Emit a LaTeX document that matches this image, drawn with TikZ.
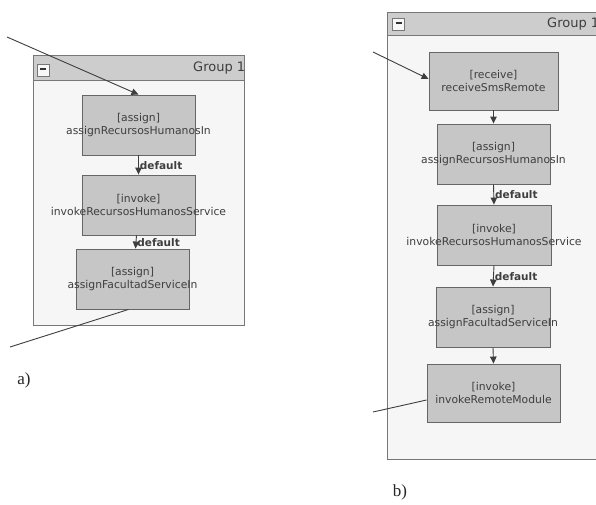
\documentclass[tikz,border=0pt]{standalone}
\usepackage{fontspec}
\setmainfont{DejaVu Sans}
\newfontfamily\seriffam{Liberation Serif}
\usetikzlibrary{arrows.meta}
\definecolor{boxfill}{HTML}{C6C6C6}
\definecolor{boxline}{HTML}{666666}
\definecolor{txt}{HTML}{3E3E3E}
\definecolor{hdr}{HTML}{CDCDCD}
\definecolor{frm}{HTML}{777777}
\definecolor{frmfill}{HTML}{F6F6F6}
\newcommand{\ovl}[1]{\makebox[0pt]{#1}}
\begin{document}
\begin{tikzpicture}[x=1pt,y=-1pt,
  act/.style={draw=boxline, line width=0.9pt, fill=boxfill, minimum width=113pt,
    minimum height=60pt, inner sep=0pt, align=center,
    font=\fontsize{10.8}{13.6}\selectfont, text=txt},
  flow/.style={draw=txt, line width=0.9pt, -{Triangle[length=7pt,width=6.5pt]}},
  wire/.style={draw=txt, line width=0.9pt},
  lbl/.style={font=\bfseries\fontsize{10.5}{12}\selectfont, text=txt, inner sep=1pt},
  grpframe/.style={draw=frm, line width=1pt, fill=frmfill},
  grphead/.style={draw=frm, line width=0.8pt, fill=hdr},
  minusbox/.style={draw=frm, line width=0.6pt, fill=white!85!hdr, minimum size=12pt, inner sep=0pt},
  grp/.style={font=\fontsize{13}{15}\selectfont, text=txt, inner sep=0pt, anchor=west},
  caplbl/.style={font=\seriffam\fontsize{17}{19}\selectfont, text=black!85}
]
\clip (0,0) rectangle (596,504);
\fill[white] (0,0) rectangle (596,504);

% ---------- panel a ----------
\draw[grpframe] (33,55) rectangle (244,325);
\begin{scope}
  \clip (33,55) rectangle (244,80);
  \draw[grphead] (33,55) rectangle (244,80);
  \node[grp] (ga) at (193,68) {Group 1};
\end{scope}
\draw[frm, line width=1pt] (33,55) rectangle (244,325);
\node[minusbox] (ma) at (43,70) {\textcolor{black!80}{\rule[2pt]{6pt}{1.6pt}}};

\node[act] (a1) at (138.5,125) {\ovl{[assign]}\\\ovl{assignRecursosHumanosIn}};
\node[act] (a2) at (138.5,205) {\ovl{[invoke]}\\\ovl{invokeRecursosHumanosService}};
\node[act] (a3) at (132.5,279) {\ovl{[assign]}\\\ovl{assignFacultadServiceIn}};

\draw[flow] (a1.south) -- node[lbl, right, pos=0.55] {default} (a2.north);
\draw[flow] ([xshift=-2pt]a2.south) -- node[lbl, right, pos=0.55] {default} ([xshift=3pt]a3.north);

\coordinate (ina) at (7,37);
\draw[flow] (ina) -- (a1.north);
\coordinate (outa) at (10,347);
\draw[wire] ([xshift=-4pt]a3.south) -- (outa);

\node[caplbl] (capa) at (24,380) {a)};

% ---------- panel b ----------
\draw[grpframe] (387,12) rectangle (610,459);
\begin{scope}
  \clip (387,12) rectangle (610,35);
  \draw[grphead] (387,12) rectangle (610,35);
  \node[grp] (gb) at (547,24) {Group 1};
\end{scope}
\draw[frm, line width=1pt] (387,12) rectangle (610,459);
\node[minusbox] (mb) at (398.5,24) {\textcolor{black!80}{\rule[2pt]{6pt}{1.6pt}}};

\node[act, minimum width=129pt, minimum height=58pt] (r) at (493.5,81) {\ovl{[receive]}\\\ovl{receiveSmsRemote}};
\node[act] (b1) at (493.5,154) {\ovl{[assign]}\\\ovl{assignRecursosHumanosIn}};
\node[act, minimum width=114pt] (b2) at (494,235) {\ovl{[invoke]}\\\ovl{invokeRecursosHumanosService}};
\node[act, minimum width=114pt] (b3) at (493,317) {\ovl{[assign]}\\\ovl{assignFacultadServiceIn}};
\node[act, minimum width=133pt, minimum height=58pt] (b4) at (493.5,393) {\ovl{[invoke]}\\\ovl{invokeRemoteModule}};

\draw[flow] (r.south) -- (b1.north);
\draw[flow] (b1.south) -- node[lbl, right, pos=0.52] {default} (b2.north);
\draw[flow] (b2.south) -- node[lbl, right, pos=0.55] {default} (b3.north);
\draw[flow] (b3.south) -- (b4.north);

\coordinate (inb) at (373,52);
\draw[flow] (inb) -- ([yshift=2pt]r.west);
\coordinate (outb) at (373,412);
\draw[wire] ([yshift=-7pt]b4.west) -- (outb);

\node[caplbl] (capb) at (400,492) {b)};
\end{tikzpicture}
\end{document}
